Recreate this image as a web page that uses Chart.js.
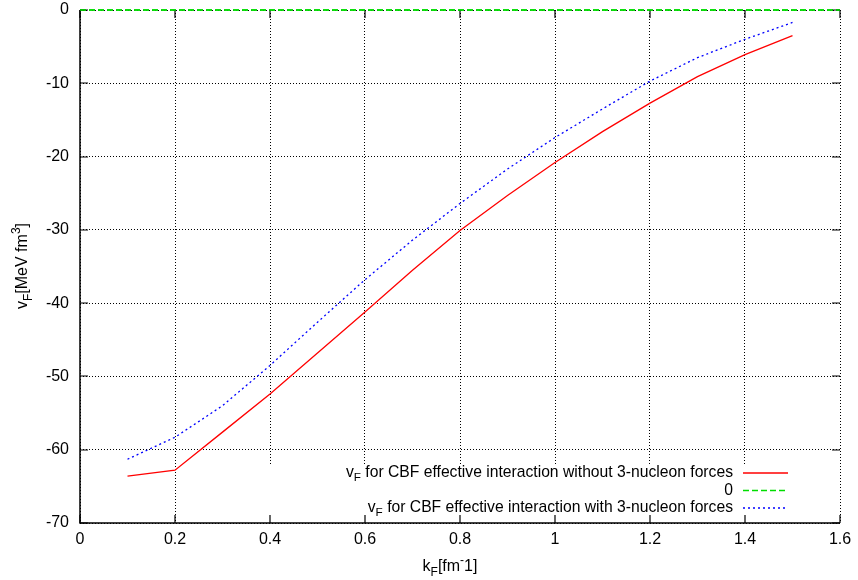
<!DOCTYPE html>
<html lang="en">
<head>
    <meta charset="utf-8" />
    <title>vF vs kF</title>
    <script src="https://cdn.jsdelivr.net/npm/chart.js@4.4.0/dist/chart.umd.min.js"></script>
    <style>
        html, body { margin: 0; padding: 0; background: #fff; }
        #wrap { width: 858px; height: 580px; }
    </style>
</head>
<body>
    <div id="wrap"><canvas id="chart" width="858" height="580"></canvas></div>
    <script>
        // данные
        const kF = [0.1, 0.2, 0.3, 0.4, 0.5, 0.6, 0.7, 0.8, 0.9, 1.0, 1.1, 1.2, 1.3, 1.4, 1.5];
        const vNo3N = [-63.6, -62.8, -57.6, -52.4, -46.8, -41.2, -35.5, -30.1, -25.3, -20.8, -16.6, -12.7, -9.1, -6.1, -3.5];
        const vWith3N = [-61.3, -58.3, -54.0, -48.5, -42.6, -36.8, -31.4, -26.4, -21.7, -17.4, -13.5, -9.7, -6.5, -4.0, -1.7];
        const zeroX = [0, 1.6];
        const zeroY = [0, 0];
        const xTicks = [0, 0.2, 0.4, 0.6, 0.8, 1.0, 1.2, 1.4, 1.6];
        const yTicks = [0, -10, -20, -30, -40, -50, -60, -70];
        const legendLabels = [
            ['v', 'F', ' for CBF effective interaction without 3-nucleon forces'],
            ['', '', '0'],
            ['v', 'F', ' for CBF effective interaction with 3-nucleon forces']
        ];

        const FONT = '"Liberation Sans", Arial, sans-serif';
        const toXY = (xs, ys) => xs.map((x, i) => ({ x: x, y: ys[i] }));

        // текст с нижним/верхним индексом: части [текст, сдвиг]
        function richWidth(ctx, parts, size) {
            let w = 0;
            parts.forEach(p => {
                ctx.font = (p[1] ? size * 0.75 : size) + 'px ' + FONT;
                w += ctx.measureText(p[0]).width;
            });
            return w;
        }
        function richText(ctx, parts, x, y, size) {
            let cx = x;
            parts.forEach(p => {
                ctx.font = (p[1] ? size * 0.75 : size) + 'px ' + FONT;
                ctx.fillText(p[0], cx, y + p[1]);
                cx += ctx.measureText(p[0]).width;
            });
        }

        const gnuplotDecor = {
            id: 'gnuplotDecor',
            afterDatasetsDraw(chart) {
                const ctx = chart.ctx;
                const a = chart.chartArea;
                const xs = chart.scales.x, ys = chart.scales.y;
                ctx.save();

                // белая подложка легенды закрывает сетку
                ctx.fillStyle = '#fff';
                ctx.fillRect(232, 465, a.right - 232, a.bottom - 465 - 1);

                // рамка слева и снизу
                ctx.strokeStyle = '#000';
                ctx.lineWidth = 1.5;
                ctx.setLineDash([]);
                ctx.beginPath();
                ctx.moveTo(a.left, a.top);
                ctx.lineTo(a.left, a.bottom);
                ctx.lineTo(a.right, a.bottom);
                ctx.stroke();

                // засечки внутрь, с зеркалом сверху и справа
                ctx.lineWidth = 1.2;
                ctx.beginPath();
                xTicks.forEach(t => {
                    const px = Math.round(xs.getPixelForValue(t));
                    ctx.moveTo(px, a.bottom); ctx.lineTo(px, a.bottom - 8);
                    ctx.moveTo(px, a.top); ctx.lineTo(px, a.top + 8);
                });
                yTicks.forEach(t => {
                    const py = Math.round(ys.getPixelForValue(t));
                    ctx.moveTo(a.left, py); ctx.lineTo(a.left + 8, py);
                    ctx.moveTo(a.right, py); ctx.lineTo(a.right - 8, py);
                });
                ctx.stroke();

                // зелёная линия нуля поверх засечек
                ctx.strokeStyle = '#00dd00';
                ctx.lineWidth = 1.3;
                ctx.setLineDash([6, 3]);
                ctx.beginPath();
                ctx.moveTo(xs.getPixelForValue(zeroX[0]), ys.getPixelForValue(zeroY[0]));
                ctx.lineTo(xs.getPixelForValue(zeroX[1]), ys.getPixelForValue(zeroY[1]));
                ctx.stroke();

                // легенда
                ctx.fillStyle = '#000';
                ctx.textBaseline = 'middle';
                const rowsY = [473, 490.5, 508];
                const styles = [
                    { c: '#ff0000', d: [] },
                    { c: '#00dd00', d: [6, 3] },
                    { c: '#0000ff', d: [2, 3] }
                ];
                legendLabels.forEach((l, i) => {
                    const parts = [[l[0], 0], [l[1], 5], [l[2], 0]];
                    const w = richWidth(ctx, parts, 15.7);
                    richText(ctx, parts, 733 - w, rowsY[i], 15.7);
                    ctx.strokeStyle = styles[i].c;
                    ctx.setLineDash(styles[i].d);
                    ctx.lineWidth = 1.3;
                    ctx.beginPath();
                    ctx.moveTo(743, rowsY[i]);
                    ctx.lineTo(788, rowsY[i]);
                    ctx.stroke();
                });
                ctx.setLineDash([]);

                // подпись оси X
                ctx.textBaseline = 'alphabetic';
                const xParts = [['k', 0], ['F', 5], ['[fm', 0], ['-', -7], ['1]', 0]];
                const xw = richWidth(ctx, xParts, 16);
                richText(ctx, xParts, 450 - xw / 2, 571, 16);

                // подпись оси Y
                ctx.translate(27, 266);
                ctx.rotate(-Math.PI / 2);
                const yParts = [['v', 0], ['F', 5], ['[MeV fm', 0], ['3', -7], [']', 0]];
                const yw = richWidth(ctx, yParts, 16);
                richText(ctx, yParts, -yw / 2, 0, 16);
                ctx.restore();
            }
        };

        const gridOpts = { color: '#000', lineWidth: 1, drawTicks: false };

        new Chart(document.getElementById('chart').getContext('2d'), {
            type: 'line',
            data: {
                datasets: [
                    {
                        label: 'without 3N',
                        data: toXY(kF, vNo3N),
                        borderColor: '#ff0000',
                        borderWidth: 1.3,
                        pointRadius: 0,
                        tension: 0,
                        fill: false
                    },
                    {
                        label: '0',
                        data: toXY(zeroX, zeroY),
                        borderColor: '#00dd00',
                        borderWidth: 1.3,
                        borderDash: [6, 3],
                        pointRadius: 0,
                        clip: false,
                        fill: false
                    },
                    {
                        label: 'with 3N',
                        data: toXY(kF, vWith3N),
                        borderColor: '#0000ff',
                        borderWidth: 1.3,
                        borderDash: [2, 3],
                        pointRadius: 0,
                        tension: 0,
                        fill: false
                    }
                ]
            },
            options: {
                responsive: false,
                animation: false,
                layout: { padding: { top: 10, right: 18, left: 0, bottom: 0 } },
                plugins: {
                    legend: { display: false },
                    tooltip: { enabled: false }
                },
                scales: {
                    x: {
                        type: 'linear',
                        min: 0,
                        max: 1.6,
                        afterBuildTicks: s => { s.ticks = xTicks.map(v => ({ value: v })); },
                        afterFit: s => { s.height = 57; s.paddingLeft = 0; s.paddingRight = 0; },
                        grid: gridOpts,
                        border: { display: false, dash: [1, 2] },
                        ticks: {
                            color: '#000',
                            padding: 7,
                            maxRotation: 0,
                            font: { family: FONT, size: 16 },
                            callback: v => String(Math.round(v * 10) / 10)
                        }
                    },
                    y: {
                        type: 'linear',
                        min: -70,
                        max: 0,
                        afterBuildTicks: s => { s.ticks = yTicks.map(v => ({ value: v })); },
                        afterFit: s => { s.width = 80; s.paddingTop = 0; s.paddingBottom = 0; },
                        grid: gridOpts,
                        border: { display: false, dash: [1, 2] },
                        ticks: {
                            color: '#000',
                            padding: 11,
                            font: { family: FONT, size: 16 }
                        }
                    }
                }
            },
            plugins: [gnuplotDecor]
        });
    </script>
</body>
</html>
